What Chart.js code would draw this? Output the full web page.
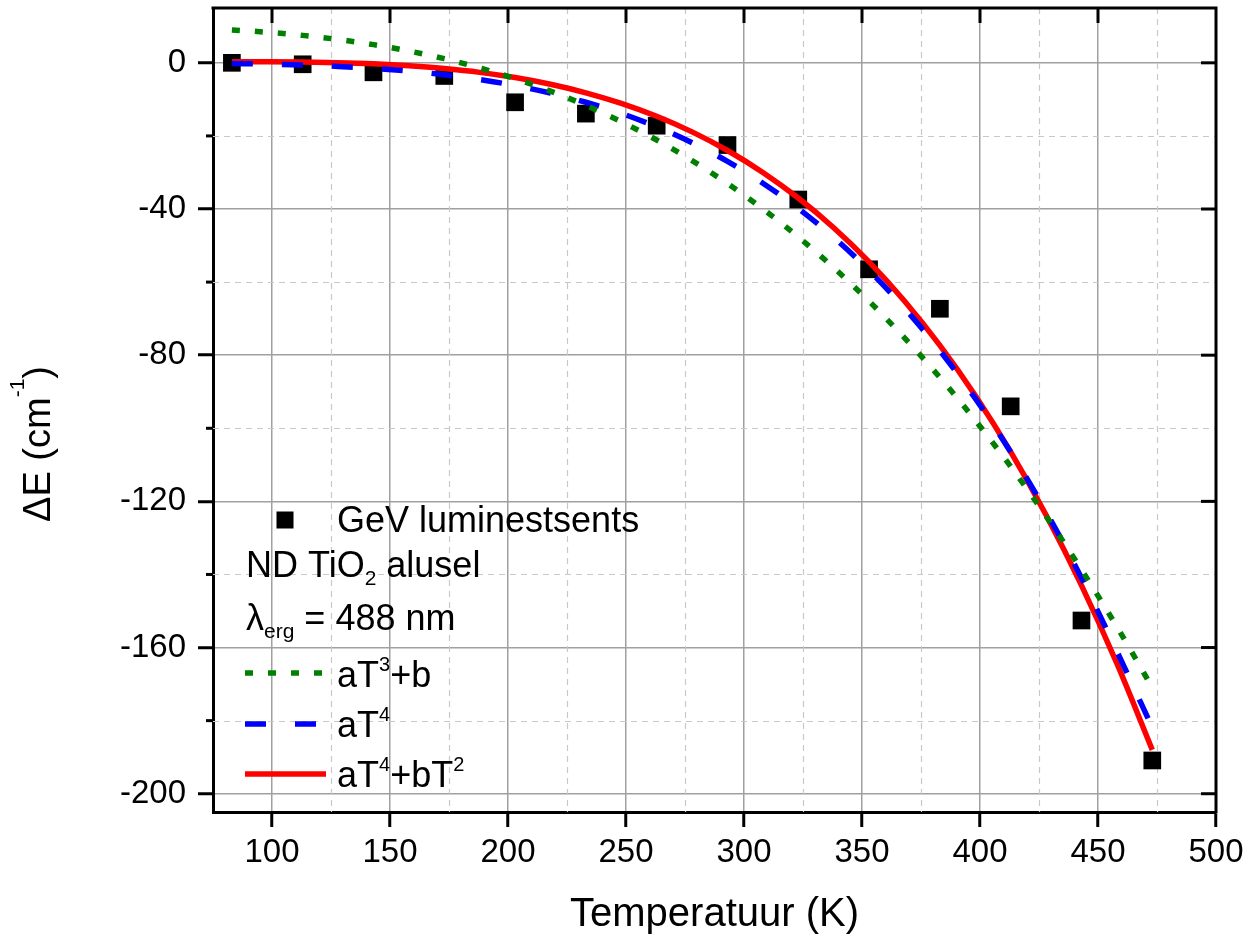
<!DOCTYPE html>
<html>
<head>
<meta charset="utf-8">
<script src="https://cdn.jsdelivr.net/npm/chart.js@4.4.1/dist/chart.umd.min.js"></script>
<style>
  html, body { margin: 0; padding: 0; background: #ffffff; }
  #wrap { width: 1256px; height: 938px; position: relative; }
</style>
</head>
<body>
<div id="wrap"><canvas id="c" width="1256" height="938"></canvas></div>
<script>
// ---------- data ----------
const temperature = [83, 113, 143, 173, 203, 233, 263, 293, 323, 353, 383, 413, 443, 473];
const deltaE      = [0.0, -0.4, -2.6, -3.6, -10.8, -13.9, -17.2, -22.5, -37.4, -56.5, -67.3, -94.0, -152.6, -190.9];

const fitT = [83, 98, 113, 128, 143, 158, 173, 188, 203, 218, 233, 248, 263, 278, 293,
              308, 323, 338, 353, 368, 383, 398, 413, 428, 443, 458, 473];
const fitT3b = [9.00, 8.37, 7.51, 6.39, 4.98, 3.24, 1.13, -1.38, -4.33, -7.74, -11.65, -16.10, -21.13, -26.76, -33.03,
                -39.98, -47.64, -56.05, -65.24, -75.24, -86.09, -97.83, -110.48, -124.09, -138.69, -154.30, -170.98];
const fitT4 = [-0.17, -0.34, -0.60, -0.98, -1.53, -2.28, -3.28, -4.57, -6.22, -8.27, -10.79, -13.84, -17.51, -21.86, -26.97,
               -32.94, -39.84, -47.77, -56.83, -67.12, -78.75, -91.84, -106.48, -122.82, -140.96, -161.04, -181.90];
const fitT4T2 = [0.29, 0.30, 0.23, 0.05, -0.27, -0.79, -1.56, -2.61, -4.03, -5.87, -8.20, -11.10, -14.64, -18.90, -23.99,
                 -29.99, -37.00, -45.12, -54.47, -65.15, -77.30, -91.02, -106.45, -123.72, -142.98, -164.35, -188.01];

const xTicks = [100, 150, 200, 250, 300, 350, 400, 450, 500];
const yTicks = [-200, -160, -120, -80, -40, 0];
const xMinor = [125, 175, 225, 275, 325, 375, 425, 475];
const yMinor = [-180, -140, -100, -60, -20];

const xTitle = 'Temperatuur (K)';
const yTitleRuns = [['ΔE (cm', 'n'], ['-1', 'sup'], [')', 'n']];
const legendRows = [
  { kind: 'square', runs: [['GeV luminestsents', 'n']] },
  { kind: 'none', runs: [['ND TiO', 'n'], ['2', 'sub'], [' alusel', 'n']] },
  { kind: 'none', runs: [['λ', 'n'], ['erg', 'sub'], [' = 488 nm', 'n']] },
  { kind: 'green', runs: [['aT', 'n'], ['3', 'sup'], ['+b', 'n']] },
  { kind: 'blue', runs: [['aT', 'n'], ['4', 'sup']] },
  { kind: 'red', runs: [['aT', 'n'], ['4', 'sup'], ['+bT', 'n'], ['2', 'sup']] }
];

// ---------- styling ----------
const FONT = "'Liberation Sans', Arial, Helvetica, sans-serif";
const GREEN = '#008000', BLUE = '#0000ff', RED = '#ff0000';
const GREEN_DASH = [8, 15], BLUE_DASH = [21, 29];

function pts(xs, ys) { return xs.map((v, i) => ({ x: v, y: ys[i] })); }

function drawRich(ctx, runs, x, y, base, opt) {
  let cx = x;
  for (const [t, s] of runs) {
    let size = base, dy = 0;
    if (s === 'sup') { size = opt.supSize; dy = -opt.raise; }
    if (s === 'sub') { size = opt.subSize; dy = opt.lower; }
    ctx.font = size + 'px ' + FONT;
    ctx.fillText(t, cx, y + dy);
    cx += ctx.measureText(t).width;
  }
  return cx;
}
function richWidth(ctx, runs, base, opt) {
  let w = 0;
  for (const [t, s] of runs) {
    let size = base;
    if (s === 'sup') size = opt.supSize;
    if (s === 'sub') size = opt.subSize;
    ctx.font = size + 'px ' + FONT;
    w += ctx.measureText(t).width;
  }
  return w;
}

const framePlugin = {
  id: 'frame',
  beforeDatasetsDraw(chart) {
    const { ctx, chartArea: a, scales: { x, y } } = chart;
    ctx.save();
    ctx.strokeStyle = '#c8c8c8';
    ctx.lineWidth = 1.2;
    ctx.setLineDash([6, 5]);
    xMinor.forEach(v => {
      const px = Math.round(x.getPixelForValue(v)) + 0.5;
      ctx.beginPath(); ctx.moveTo(px, a.top); ctx.lineTo(px, a.bottom); ctx.stroke();
    });
    yMinor.forEach(v => {
      const py = Math.round(y.getPixelForValue(v)) + 0.5;
      ctx.beginPath(); ctx.moveTo(a.left, py); ctx.lineTo(a.right, py); ctx.stroke();
    });
    ctx.restore();
  },
  afterDatasetsDraw(chart) {
    const { ctx, chartArea: a, scales: { x, y } } = chart;
    ctx.save();
    ctx.strokeStyle = '#000';
    ctx.lineWidth = 3;
    ctx.setLineDash([]);
    ctx.beginPath();
    ctx.moveTo(a.left - 1.5, a.top);
    ctx.lineTo(a.right, a.top);
    ctx.lineTo(a.right, a.bottom + 1.5);
    ctx.stroke();
    xTicks.forEach(v => {
      const px = x.getPixelForValue(v);
      if (px > a.right - 3) return;
      ctx.beginPath(); ctx.moveTo(px, a.top); ctx.lineTo(px, a.top + 15); ctx.stroke();
    });
    yTicks.forEach(v => {
      const py = y.getPixelForValue(v);
      ctx.beginPath(); ctx.moveTo(a.right, py); ctx.lineTo(a.right - 15, py); ctx.stroke();
    });
    yMinor.forEach(v => {
      const py = y.getPixelForValue(v);
      ctx.beginPath(); ctx.moveTo(a.left, py); ctx.lineTo(a.left - 7, py); ctx.stroke();
    });
    ctx.restore();
  },
  afterDraw(chart) {
    const { ctx } = chart;
    ctx.save();
    ctx.fillStyle = '#000';
    ctx.textBaseline = 'alphabetic';
    ctx.textAlign = 'left';
    const yOpt = { supSize: 21, raise: 26, subSize: 21, lower: 8 };
    const w = richWidth(ctx, yTitleRuns, 38, yOpt);
    ctx.save();
    ctx.translate(50, 444);
    ctx.rotate(-Math.PI / 2);
    drawRich(ctx, yTitleRuns, -w / 2, 0, 38, yOpt);
    ctx.restore();

    const lOpt = { supSize: 20, raise: 16, subSize: 21, lower: 8 };
    const baselines = [532, 577, 630, 687, 737, 787];
    const lineY = [520, 565, 618, 673, 724, 774];
    legendRows.forEach((row, i) => {
      const tx = (row.kind === 'none') ? 246 : 337;
      drawRich(ctx, row.runs, tx, baselines[i], 36, lOpt);
      ctx.save();
      if (row.kind === 'square') {
        ctx.fillRect(285 - 8.5, lineY[i] - 8.5, 17, 17);
      } else if (row.kind !== 'none') {
        ctx.lineWidth = 5.5;
        ctx.lineCap = 'butt';
        if (row.kind === 'green') { ctx.strokeStyle = GREEN; ctx.setLineDash(GREEN_DASH); }
        if (row.kind === 'blue') { ctx.strokeStyle = BLUE; ctx.setLineDash(BLUE_DASH); }
        if (row.kind === 'red') { ctx.strokeStyle = RED; ctx.setLineDash([]); }
        const x1 = row.kind === 'blue' ? 318 : (row.kind === 'green' ? 323 : 326);
        ctx.beginPath(); ctx.moveTo(245, lineY[i]); ctx.lineTo(x1, lineY[i]); ctx.stroke();
      }
      ctx.restore();
    });
    ctx.restore();
  }
};

const ctx = document.getElementById('c').getContext('2d');
new Chart(ctx, {
  type: 'line',
  data: {
    datasets: [
      {
        label: 'aT3+b',
        data: pts(fitT, fitT3b),
        borderColor: GREEN, borderWidth: 5.5, borderDash: GREEN_DASH, borderCapStyle: 'butt',
        pointRadius: 0, fill: false, cubicInterpolationMode: 'monotone'
      },
      {
        label: 'aT4',
        data: pts(fitT, fitT4),
        borderColor: BLUE, borderWidth: 5.5, borderDash: BLUE_DASH, borderCapStyle: 'butt',
        pointRadius: 0, fill: false, cubicInterpolationMode: 'monotone'
      },
      {
        label: 'aT4+bT2',
        data: pts(fitT, fitT4T2),
        borderColor: RED, borderWidth: 5.5, borderCapStyle: 'butt',
        pointRadius: 0, fill: false, cubicInterpolationMode: 'monotone'
      },
      {
        label: 'GeV luminestsents',
        data: pts(temperature, deltaE),
        showLine: false,
        pointStyle: 'rect', pointRadius: 12.5, pointHoverRadius: 12.5,
        pointBackgroundColor: '#000', pointBorderColor: '#000', pointBorderWidth: 0
      }
    ]
  },
  options: {
    responsive: false,
    animation: false,
    devicePixelRatio: 1,
    layout: { autoPadding: false, padding: { top: 8, right: 40, left: 0, bottom: 0 } },
    plugins: { legend: { display: false }, tooltip: { enabled: false } },
    events: [],
    scales: {
      x: {
        type: 'linear', position: 'bottom', min: 75, max: 500,
        afterBuildTicks: s => { s.ticks = xTicks.map(v => ({ value: v })); },
        afterFit: s => { s.height = 126; s.paddingLeft = 0; s.paddingRight = 0; },
        ticks: { color: '#000', font: { family: FONT, size: 33, lineHeight: 1.2 }, padding: 6, maxRotation: 0, autoSkip: false },
        grid: { color: '#a0a0a0', lineWidth: 1.5, tickColor: '#000', tickWidth: 3, tickLength: 15, drawTicks: true },
        border: { display: true, color: '#000', width: 3 },
        title: { display: true, text: xTitle, color: '#000', font: { family: FONT, size: 40, lineHeight: 1.15 }, padding: { top: 0, bottom: 0 } }
      },
      y: {
        type: 'linear', position: 'left', min: -205, max: 15,
        afterBuildTicks: s => { s.ticks = yTicks.map(v => ({ value: v })); },
        afterFit: s => { s.width = 213; s.paddingTop = 0; s.paddingBottom = 0; },
        ticks: { color: '#000', font: { family: FONT, size: 33 }, padding: 12, autoSkip: false },
        grid: { color: '#a0a0a0', lineWidth: 1.5, tickColor: '#000', tickWidth: 3, tickLength: 15, drawTicks: true },
        border: { display: true, color: '#000', width: 3 }
      }
    }
  },
  plugins: [framePlugin]
});
</script>
</body>
</html>
